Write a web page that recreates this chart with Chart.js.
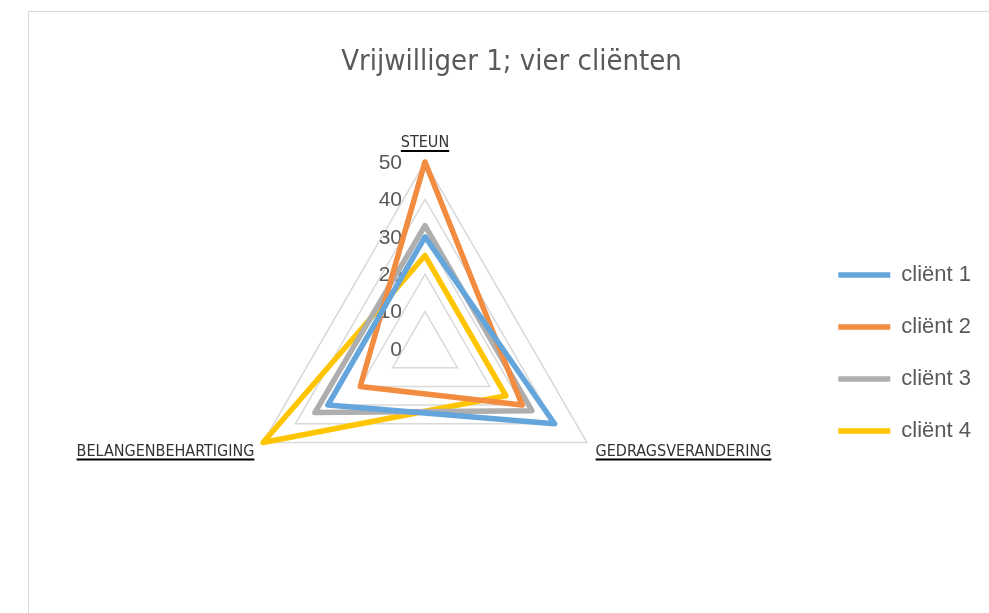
<!DOCTYPE html>
<html>
<head>
<meta charset="utf-8">
<script src="https://cdn.jsdelivr.net/npm/chart.js@4.4.1/dist/chart.umd.min.js"></script>
<style>
  html, body { margin: 0; padding: 0; background: #fff; overflow: hidden; }
  #frame { position: absolute; left: 28px; top: 11px; width: 1000px; height: 700px; border: 1px solid #d9d9d9; box-sizing: border-box; }
  #radar { position: absolute; left: 28px; top: 11px; }
</style>
</head>
<body>
<div id="frame"></div>
<canvas id="radar" width="980" height="640"></canvas>
<script>
// data
const categories = ['STEUN', 'GEDRAGSVERANDERING', 'BELANGENBEHARTIGING'];
const seriesNames = ['cliënt 1', 'cliënt 2', 'cliënt 3', 'cliënt 4'];
const client1 = [30, 40, 30];
const client2 = [50, 30, 20];
const client3 = [33, 33, 34];
const client4 = [25, 25, 50];
const tickValues = [0, 10, 20, 30, 40, 50];

const seriesColors = ['#64A5DC', '#F28C40', '#AEAEAE', '#FFC501'];
const textGrey = '#595959';
const narrow = '"Liberation Sans Narrow", "DejaVu Sans Condensed", "Liberation Sans", sans-serif';

// Excel puts the value labels left of the vertical axis, behind the lines
const leftTicks = {
    id: 'leftTicks',
    beforeDatasetsDraw(chart) {
        const scale = chart.scales.r;
        const ctx = chart.ctx;
        ctx.save();
        ctx.font = '21px "Liberation Sans", sans-serif';
        ctx.fillStyle = textGrey;
        ctx.textAlign = 'right';
        ctx.textBaseline = 'middle';
        scale.ticks.forEach(t => {
            const d = scale.getDistanceFromCenterForValue(t.value);
            ctx.fillText(String(t.value), scale.xCenter - 23, scale.yCenter - d + 1);
        });
        ctx.restore();
    }
};

// underline the category labels
const underline = {
    id: 'underline',
    afterDraw(chart) {
        const items = chart.scales.r._pointLabelItems || [];
        const ctx = chart.ctx;
        ctx.save();
        ctx.fillStyle = '#000';
        items.forEach(it => {
            const mid = (it.top + it.bottom) / 2;
            ctx.fillRect(it.left, mid + 7, it.right - it.left, 2);
        });
        ctx.restore();
    }
};

const datasets = [client1, client2, client3, client4].map((values, i) => ({
    label: seriesNames[i],
    data: values,
    borderColor: seriesColors[i],
    backgroundColor: seriesColors[i],
    borderWidth: 5.5,
    borderJoinStyle: 'round',
    borderCapStyle: 'round',
    pointRadius: 0,
    pointHoverRadius: 0,
    fill: false
}));

new Chart(document.getElementById('radar'), {
    type: 'radar',
    data: { labels: categories, datasets: datasets },
    options: {
        responsive: false,
        animation: false,
        layout: { padding: { left: 14, right: 27, top: 0, bottom: 103 } },
        scales: {
            r: {
                min: tickValues[0],
                max: tickValues[tickValues.length - 1],
                ticks: { stepSize: tickValues[1] - tickValues[0], display: false },
                grid: { color: '#D9D9D9', lineWidth: 1.5 },
                angleLines: { display: false },
                pointLabels: {
                    color: '#333333',
                    padding: ctx => (ctx.index === 0 ? 15 : 10),
                    font: { family: narrow, size: 16, lineHeight: 0.5 }
                }
            }
        },
        plugins: {
            title: {
                display: true,
                text: 'Vrijwilliger 1; vier cliënten',
                color: textGrey,
                font: { family: narrow, size: 29, weight: 'normal', lineHeight: 1.2 },
                padding: { top: 34, bottom: 48.2 }
            },
            legend: {
                position: 'right',
                fullSize: false,
                title: { display: true, text: '', font: { size: 20, lineHeight: 1 }, padding: { top: 10, bottom: 0 } },
                labels: {
                    usePointStyle: true,
                    pointStyle: 'line',
                    pointStyleWidth: 52,
                    padding: 30,
                    color: textGrey,
                    font: { family: '"Liberation Sans", sans-serif', size: 22 }
                }
            },
            tooltip: { enabled: false }
        }
    },
    plugins: [leftTicks, underline]
});
</script>
</body>
</html>
